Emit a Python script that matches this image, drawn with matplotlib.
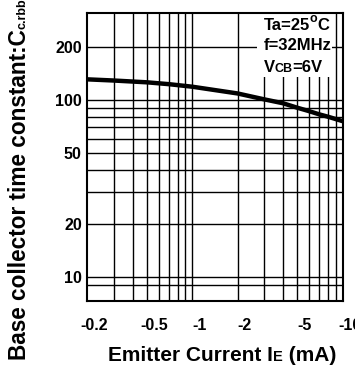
import matplotlib
matplotlib.use("Agg")
import matplotlib.pyplot as plt
from matplotlib.patches import Rectangle
from matplotlib.transforms import ScaledTranslation

plt.rcParams['font.family'] = ['Liberation Sans', 'DejaVu Sans']
plt.rcParams['font.weight'] = 'bold'

# emitter current magnitude (mA) and time constant (ps)
ie = [0.2, 0.3, 0.5, 0.7, 1, 2, 3, 4, 5, 6, 7, 8, 10]
cc = [131, 129, 126, 123, 119, 109, 101, 96, 90.5, 86.5, 83, 80.5, 76]

x_ticks = [0.2, 0.5, 1, 2, 5, 10]
x_labels = ['-0.2', '-0.5', '-1', '-2', '-5', '-10']
y_ticks = [10, 20, 50, 100, 200]
y_labels = ['10', '20', '50', '100', '200']

fig = plt.figure(figsize=(3.55, 3.71), dpi=100)
ax = fig.add_axes([0.246, 0.1887, 0.719, 0.777])
ax.set_xscale('log')
ax.set_yscale('log')
ax.set_xlim(0.2, 10)
ax.set_ylim(7.3, 312)

for v in [0.3, 0.4, 0.5, 0.6, 0.7, 0.8, 0.9, 1, 2, 3, 4, 5, 6, 7, 8, 9]:
    ax.axvline(v, color='black', lw=1, zorder=1)
for v in [9, 10, 20, 30, 40, 50, 60, 70, 80, 90, 100, 200]:
    ax.axhline(v, color='black', lw=1, zorder=1)

ax.add_patch(Rectangle((0.664, 0.777), 0.294, 0.223, transform=ax.transAxes,
                       facecolor='white', edgecolor='none', zorder=2))

ax.plot(ie, cc, color='black', lw=3.2, solid_capstyle='butt', zorder=3)

for s in ax.spines.values():
    s.set_linewidth(1.5)

ax.minorticks_off()
ax.set_xticks(x_ticks)
ax.set_xticklabels(x_labels)
ax.set_yticks(y_ticks)
ax.set_yticklabels(y_labels)
ax.tick_params(length=0, labelsize=11.5)
ax.tick_params(axis='x', pad=12)
ax.tick_params(axis='y', pad=4)
shift = ScaledTranslation(5 / 72, 0, fig.dpi_scale_trans)
for lab in ax.get_xticklabels():
    lab.set_transform(lab.get_transform() + shift)

renderer = fig.canvas.get_renderer()


def chain(x, y, parts, transform, rotation=0):
    off = 0.0
    for s, size, rise in parts:
        if rotation:
            tr = transform + ScaledTranslation(-rise / 72, off / 72, fig.dpi_scale_trans)
        else:
            tr = transform + ScaledTranslation(off / 72, rise / 72, fig.dpi_scale_trans)
        t = fig.text(x, y, s, fontsize=size, fontweight='bold', rotation=rotation,
                     rotation_mode='anchor', ha='left', va='baseline', transform=tr)
        bb = t.get_window_extent(renderer)
        off += (bb.height if rotation else bb.width) * 72 / fig.dpi


chain(0.69, 0.94, [('Ta=25', 12, 0), ('o', 9, 5.5), ('C', 12, 0)], ax.transAxes)
fig.text(0.69, 0.87, 'f=32MHz', fontsize=12, fontweight='bold',
         transform=ax.transAxes, va='baseline')
chain(0.69, 0.795, [('V', 12, 0), ('CB', 9, 0), ('=6V', 12, 0)], ax.transAxes)

chain(0.304, 0.027, [('Emitter Current I', 15, 0), ('E', 10.5, 0), (' (mA)', 15, 0)],
      fig.transFigure)
chain(0.0732, 0.0296, [('Base collector time constant:C', 16.3, 0), ('c.rbb\'(ps)', 9, 0)],
      fig.transFigure, rotation=90)

fig.savefig('out.png', dpi=100)
